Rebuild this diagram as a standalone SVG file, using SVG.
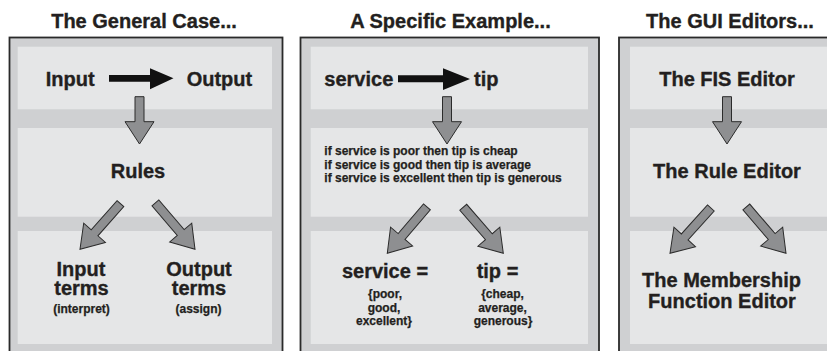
<svg xmlns="http://www.w3.org/2000/svg" xmlns:xlink="http://www.w3.org/1999/xlink" width="827" height="351" viewBox="0 0 827 351">
<style>
.frame{fill:#cfd0d2;stroke:#2a2a2a;stroke-width:1.8}
.row{fill:#e5e6e7}
text{font-family:"Liberation Sans",Arial,Helvetica,sans-serif;font-weight:bold;fill:#231f20;stroke:#231f20;stroke-width:0.35}
.big{font-size:20px}
.title{font-size:20px;text-anchor:middle}
.mid{text-anchor:middle}
.small{font-size:12px;stroke-width:0.25}
.grey{fill:#8e8f91;stroke:#2b2b2b;stroke-width:1}
.black{fill:#111111}
</style>
<defs>
<path id="gdiag" d="M-4.5,-61 L4.5,-61 L4.5,-22 L14.5,-22 L0,0 L-14.5,-22 L-4.5,-22 Z"/>
<path id="gdown" d="M-4.5,-47.3 L4.5,-47.3 L4.5,-22.3 L14.5,-22.3 L0,0 L-14.5,-22.3 L-4.5,-22.3 Z"/>
</defs>

<g id="panel-general">
<rect class="frame" x="9.5" y="37.5" width="273" height="340"/>
<rect class="row" x="17.7" y="46.7" width="254.3" height="62.6"/>
<rect class="row" x="17.7" y="128" width="254.3" height="88.7"/>
<rect class="row" x="17.7" y="231" width="254.3" height="113"/>
<text class="title" x="144" y="27.5">The General Case...</text>
</g>
<g id="panel-example">
<rect class="frame" x="300.5" y="37.5" width="298.5" height="340"/>
<rect class="row" x="310.7" y="46.7" width="277.3" height="62.6"/>
<rect class="row" x="310.7" y="128" width="277.3" height="88.7"/>
<rect class="row" x="310.7" y="231" width="277.3" height="113"/>
<text class="title" x="450.5" y="27.5">A Specific Example...</text>
</g>
<g id="panel-gui">
<rect class="frame" x="619" y="37.5" width="230" height="340"/>
<rect class="row" x="630" y="46.7" width="210" height="62.6"/>
<rect class="row" x="630" y="128" width="210" height="88.7"/>
<rect class="row" x="630" y="231" width="210" height="113"/>
<text class="title" x="730" y="27.5">The GUI Editors...</text>
</g>

<g id="connectors">
<path class="black" d="M109,75 L150,75 L150,68.3 L173.5,78.3 L150,89.3 L150,81.7 L109,81.7 Z"/>
<path class="black" d="M398,75.3 L443,75.3 L443,68.3 L470,79 L443,90 L443,82.3 L398,82.3 Z"/>
<use xlink:href="#gdown" href="#gdown" class="grey" transform="translate(139.5,144)"/>
<use xlink:href="#gdown" href="#gdown" class="grey" transform="translate(447,144)"/>
<use xlink:href="#gdown" href="#gdown" class="grey" transform="translate(727,144)"/>
<use xlink:href="#gdiag" href="#gdiag" class="grey" transform="translate(80,249.3) rotate(41.5)"/>
<use xlink:href="#gdiag" href="#gdiag" class="grey" transform="translate(195,249.3) rotate(-40.5)"/>
<use xlink:href="#gdiag" href="#gdiag" class="grey" transform="translate(387.3,253.3) rotate(40.5)"/>
<use xlink:href="#gdiag" href="#gdiag" class="grey" transform="translate(503.3,253.3) rotate(-41)"/>
<use xlink:href="#gdiag" href="#gdiag" class="grey" transform="translate(670,253.3) rotate(42)"/>
<use xlink:href="#gdiag" href="#gdiag" class="grey" transform="translate(786,253.3) rotate(-40.6)"/>
</g>

<g id="input"><text class="big" x="45.7" y="86">Input</text></g>
<g id="output"><text class="big" x="186.7" y="86">Output</text></g>
<g id="rules"><text class="big mid" x="138" y="178">Rules</text></g>
<g id="input-terms">
<text class="big mid" x="81" y="276">Input</text>
<text class="big mid" x="81.5" y="295">terms</text>
<text class="small mid" x="81.5" y="312.7">(interpret)</text>
</g>
<g id="output-terms">
<text class="big mid" x="199" y="276">Output</text>
<text class="big mid" x="199" y="295">terms</text>
<text class="small mid" x="198.5" y="312.7">(assign)</text>
</g>

<g id="service"><text class="big" x="324.3" y="86">service</text></g>
<g id="tip"><text class="big" x="474" y="86">tip</text></g>
<g id="rule-list">
<text class="small" x="324.3" y="155">if service is poor then tip is cheap</text>
<text class="small" x="324.3" y="168.5">if service is good then tip is average</text>
<text class="small" x="324.3" y="182">if service is excellent then tip is generous</text>
</g>
<g id="service-terms">
<text class="big mid" x="385" y="278.3">service =</text>
<text class="small mid" x="385" y="298.3">{poor,</text>
<text class="small mid" x="384" y="311.7">good,</text>
<text class="small mid" x="384" y="325">excellent}</text>
</g>
<g id="tip-terms">
<text class="big mid" x="497.5" y="278.3">tip =</text>
<text class="small mid" x="502.5" y="298.3">{cheap,</text>
<text class="small mid" x="502.5" y="311.7">average,</text>
<text class="small mid" x="503" y="325">generous}</text>
</g>

<g id="fis-editor"><text class="big mid" x="727" y="86">The FIS Editor</text></g>
<g id="rule-editor"><text class="big mid" x="727" y="178">The Rule Editor</text></g>
<g id="mf-editor">
<text class="big mid" x="721.5" y="286.7">The Membership</text>
<text class="big mid" x="722" y="308.3">Function Editor</text>
</g>
</svg>
